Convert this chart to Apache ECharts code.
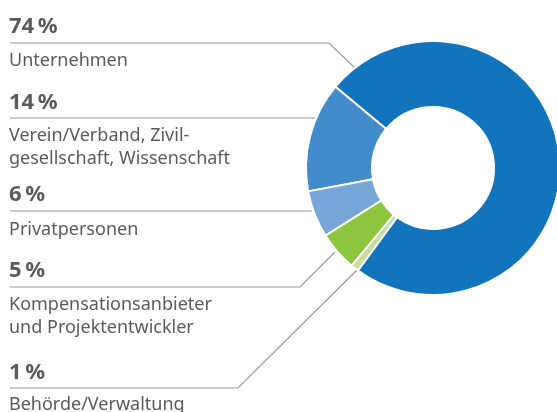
<!DOCTYPE html>
<html>
<head>
<meta charset="utf-8">
<script src="https://cdn.jsdelivr.net/npm/echarts@6/dist/echarts.min.js"></script>
<style>
  html, body { margin: 0; padding: 0; background: #fff; }
  #chart { width: 557px; height: 412px; }
</style>
</head>
<body>
<div id="chart"></div>
<script>
// data
const categories = [
  'Unternehmen',
  'Verein/Verband, Zivil-\ngesellschaft, Wissenschaft',
  'Privatpersonen',
  'Kompensationsanbieter\nund Projektentwickler',
  'Behörde/Verwaltung'
];
const values = [74, 14, 6, 5, 1];
const colors = ['#1174bc', '#438ccb', '#76a7d8', '#8cc63f', '#c4e09c'];

// label layout (centre of the percent text, top of the name, underline y, bend and end of the leader line)
const pctY = [27, 103, 195, 271, 373];
const nameY = [49, 124, 218, 293, 393];
const lineY = [43, 118, 211, 287, 388];
const leadEnd = [[329, 43, 355, 68], [316, 118, 316, 118], [312, 211, 312, 211], [300, 287, 335, 252], [238, 388, 357, 270]];

const textColor = '#5b5b5b';
const font = '"Noto Sans", sans-serif';

var myChart = echarts.init(document.getElementById('chart'));

var graphics = [];
categories.forEach(function (name, i) {
  graphics.push({
    type: 'text',
    x: 9, y: pctY[i],
    silent: true,
    style: {
      text: values[i] + '\u2009%',
      font: 'bold 22px ' + font,
      fill: textColor,
      verticalAlign: 'middle'
    }
  });
  graphics.push({
    type: 'text',
    x: 9, y: nameY[i],
    silent: true,
    style: {
      text: name,
      font: '18px ' + font,
      lineHeight: 23,
      fill: textColor,
      verticalAlign: 'top'
    }
  });
  var e = leadEnd[i];
  graphics.push({
    type: 'polyline',
    silent: true,
    shape: { points: [[10, lineY[i]], [e[0], e[1]], [e[2], e[3]]] },
    style: { stroke: '#9a9a9a', lineWidth: 1.2, fill: null }
  });
});

var option = {
  animation: false,
  graphic: graphics,
  series: [
    {
      type: 'pie',
      center: [433, 168],
      radius: [61, 127],
      startAngle: 233.8,
      clockwise: false,
      silent: true,
      label: { show: false },
      labelLine: { show: false },
      itemStyle: { borderColor: '#fff', borderWidth: 2 },
      data: categories.map(function (c, i) {
        return { name: c, value: values[i], itemStyle: { color: colors[i] } };
      })
    }
  ]
};
myChart.setOption(option);
</script>
</body>
</html>
